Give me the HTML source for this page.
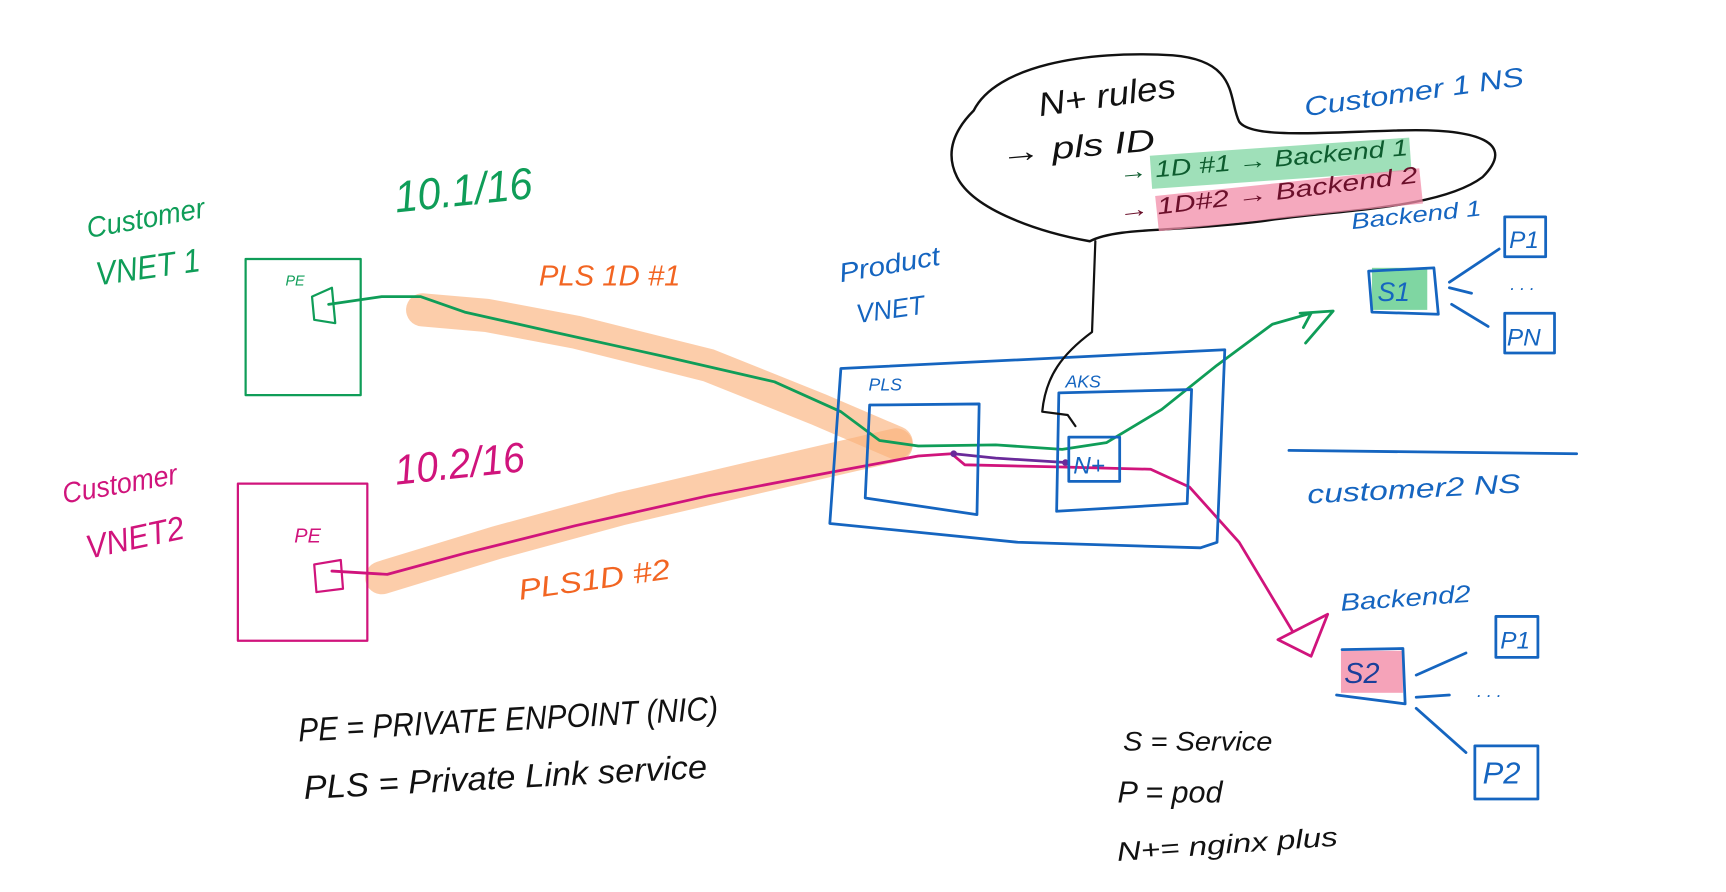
<!DOCTYPE html>
<html><head><meta charset="utf-8"><style>
html,body{margin:0;padding:0;background:#fff;width:1726px;height:892px;overflow:hidden}
svg{display:block}
text{font-family:"Liberation Sans",sans-serif}
</style></head><body>
<svg width="1726" height="892" viewBox="0 0 1560 806" preserveAspectRatio="none">
<g fill="none" stroke-linecap="round" stroke-linejoin="round">
<path d="M382,280 L440,285 L520,300 L640,330 L740,370 L810,400" stroke="#fbb27c" stroke-opacity="0.65" stroke-width="30"/>
<path d="M345,522 L450,490 L560,460 L680,432 L810,402" stroke="#fbb27c" stroke-opacity="0.65" stroke-width="30"/>
<rect x="222" y="234" width="104" height="123" stroke="#0f9d58" stroke-width="2"/>
<path d="M282,268 L300,260 L303,292 L284,289 Z" stroke="#0f9d58" stroke-width="2"/>
<path d="M297,275 L345,268 L380,268 L420,282 L500,300 L600,322 L700,345 L760,372 L795,398 L830,403 L900,402 L960,406 L1000,400 L1050,370 L1100,330 L1150,293 L1185,283" stroke="#0f9d58" stroke-width="2.5"/>
<path d="M1175,283 L1205,281 L1180,310 M1185,283 L1178,296" stroke="#0f9d58" stroke-width="2.5"/>
<rect x="215" y="437" width="117" height="142" stroke="#d0147c" stroke-width="2"/>
<path d="M284,510 L308,506 L310,532 L286,535 Z" stroke="#d0147c" stroke-width="2"/>
<path d="M300,516 L350,519 L420,500 L520,475 L640,448 L760,425 L830,412 L860,410 L872,420 L960,422 L1040,424 L1075,440 L1120,490 L1168,570" stroke="#d0147c" stroke-width="2.5"/>
<path d="M1155,578 L1200,555 L1185,593 Z" stroke="#d0147c" stroke-width="2.5"/>
<path d="M862,410 L900,414 L965,418" stroke="#6a2a9a" stroke-width="2.5"/>
<circle cx="862" cy="410" r="3" fill="#6a2a9a" stroke="none"/>
<circle cx="963" cy="418" r="3" fill="#6a2a9a" stroke="none"/>
<path d="M760,333 L1107,316 L1100,490 L1085,495 L920,490 L750,473 Z" stroke="#1565c0" stroke-width="2.5"/>
<path d="M786,366 L885,365 L883,465 L782,450 Z" stroke="#1565c0" stroke-width="2.5"/>
<path d="M957,355 L1077,352 L1073,455 L955,462 Z" stroke="#1565c0" stroke-width="2.5"/>
<rect x="966" y="395" width="46" height="40" stroke="#1565c0" stroke-width="2.5"/>
<path d="M880,100 C900,60 980,45 1060,50 C1120,55 1110,90 1120,110 C1130,125 1190,120 1260,118 C1340,115 1370,130 1340,160 C1300,190 1200,190 1140,200 C1060,210 1010,205 985,218 C940,210 880,190 865,160 C855,140 860,120 880,100 Z" stroke="#111" stroke-width="2.2"/>
<path d="M990,218 L987,300 C960,320 945,340 942,372 L965,375 L972,385" stroke="#111" stroke-width="2"/>
<rect x="1040" y="133" width="235" height="30" fill="#7fd6a2" fill-opacity="0.75" stroke="none" transform="rotate(-4 1150 148)"/>
<rect x="1045" y="165" width="240" height="32" fill="#f28ca8" fill-opacity="0.75" stroke="none" transform="rotate(-6 1160 180)"/>
<rect x="1240" y="242" width="50" height="38" fill="#7fd6a2" stroke="none"/>
<path d="M1237,245 L1296,242 L1300,284 L1240,282 Z" stroke="#1565c0" stroke-width="2.5"/>
<rect x="1360" y="196" width="37" height="36" stroke="#1565c0" stroke-width="2.5"/>
<rect x="1360" y="283" width="45" height="36" stroke="#1565c0" stroke-width="2.5"/>
<path d="M1310,255 L1355,225 M1310,260 L1330,265 M1312,275 L1345,295" stroke="#1565c0" stroke-width="2.5"/>
<path d="M1165,407 L1425,410" stroke="#1565c0" stroke-width="2.5"/>
<rect x="1212" y="588" width="56" height="38" fill="#f28ca8" fill-opacity="0.8" stroke="none"/>
<path d="M1213,587 L1268,586 L1270,636 L1208,628" stroke="#1565c0" stroke-width="2.5"/>
<rect x="1352" y="557" width="38" height="37" stroke="#1565c0" stroke-width="2.5"/>
<rect x="1333" y="674" width="57" height="48" stroke="#1565c0" stroke-width="2.5"/>
<path d="M1280,610 L1325,590 M1280,630 L1310,628 M1280,640 L1325,680" stroke="#1565c0" stroke-width="2.5"/>
</g>
<g font-style="italic" lengthAdjust="spacingAndGlyphs">
<text x="80" y="215" fill="#0f9d58" font-size="26" textLength="108" lengthAdjust="spacingAndGlyphs" transform="rotate(-10 80 215)">Customer</text>
<text x="88" y="258" fill="#0f9d58" font-size="30" textLength="95" lengthAdjust="spacingAndGlyphs" transform="rotate(-8 88 258)">VNET 1</text>
<text x="358" y="192" fill="#0f9d58" font-size="40" textLength="125" lengthAdjust="spacingAndGlyphs" transform="rotate(-6 358 192)">10.1/16</text>
<text x="258" y="258" fill="#0f9d58" font-size="13">PE</text>
<text x="487" y="258" fill="#f26522" font-size="26" textLength="128" lengthAdjust="spacingAndGlyphs">PLS 1D #1</text>
<text x="58" y="455" fill="#d0147c" font-size="26" textLength="105" lengthAdjust="spacingAndGlyphs" transform="rotate(-10 58 455)">Customer</text>
<text x="80" y="505" fill="#d0147c" font-size="30" textLength="90" lengthAdjust="spacingAndGlyphs" transform="rotate(-12 80 505)">VNET2</text>
<text x="358" y="438" fill="#d0147c" font-size="38" textLength="118" lengthAdjust="spacingAndGlyphs" transform="rotate(-6 358 438)">10.2/16</text>
<text x="266" y="490" fill="#d0147c" font-size="18">PE</text>
<text x="470" y="542" fill="#f26522" font-size="26" textLength="138" lengthAdjust="spacingAndGlyphs" transform="rotate(-8 470 542)">PLS1D #2</text>
<text x="760" y="255" fill="#1565c0" font-size="24" textLength="92" lengthAdjust="spacingAndGlyphs" transform="rotate(-10 760 255)">Product</text>
<text x="775" y="292" fill="#1565c0" font-size="24" textLength="62" lengthAdjust="spacingAndGlyphs" transform="rotate(-8 775 292)">VNET</text>
<text x="785" y="353" fill="#1565c0" font-size="16">PLS</text>
<text x="963" y="350" fill="#1565c0" font-size="16">AKS</text>
<text x="970" y="428" fill="#1565c0" font-size="22">N+</text>
<text x="940" y="105" fill="#111" font-size="30" textLength="125" lengthAdjust="spacingAndGlyphs" transform="rotate(-8 940 105)">N+ rules</text>
<text x="905" y="148" fill="#111" font-size="28" textLength="140" lengthAdjust="spacingAndGlyphs" transform="rotate(-5 905 148)">→ pls ID</text>
<text x="1012" y="163" fill="#0d5c2e" font-size="21" textLength="262" lengthAdjust="spacingAndGlyphs" transform="rotate(-5 1012 163)">→ 1D #1 → Backend 1</text>
<text x="1012" y="198" fill="#6b0f2a" font-size="21" textLength="272" lengthAdjust="spacingAndGlyphs" transform="rotate(-7 1012 198)">→ 1D#2 → Backend 2</text>
<text x="1180" y="105" fill="#1565c0" font-size="24" textLength="200" lengthAdjust="spacingAndGlyphs" transform="rotate(-8 1180 105)">Customer 1 NS</text>
<text x="1222" y="207" fill="#1565c0" font-size="20" textLength="118" lengthAdjust="spacingAndGlyphs" transform="rotate(-6 1222 207)">Backend 1</text>
<text x="1245" y="272" fill="#1565c0" font-size="24">S1</text>
<text x="1364" y="224" fill="#1565c0" font-size="22">P1</text>
<text x="1365" y="262" fill="#1565c0" font-size="16">. . .</text>
<text x="1362" y="312" fill="#1565c0" font-size="22">PN</text>
<text x="1182" y="455" fill="#1565c0" font-size="24" textLength="193" lengthAdjust="spacingAndGlyphs" transform="rotate(-3 1182 455)">customer2 NS</text>
<text x="1212" y="552" fill="#1565c0" font-size="22" textLength="118" lengthAdjust="spacingAndGlyphs" transform="rotate(-4 1212 552)">Backend2</text>
<text x="1215" y="617" fill="#1a3f9a" font-size="26">S2</text>
<text x="1356" y="586" fill="#1565c0" font-size="22">P1</text>
<text x="1335" y="630" fill="#1565c0" font-size="16">. . .</text>
<text x="1340" y="708" fill="#1565c0" font-size="28">P2</text>
<text x="270" y="670" fill="#111" font-size="30" textLength="380" lengthAdjust="spacingAndGlyphs" transform="rotate(-3 270 670)">PE = PRIVATE ENPOINT (NIC)</text>
<text x="275" y="722" fill="#111" font-size="30" textLength="365" lengthAdjust="spacingAndGlyphs" transform="rotate(-3 275 722)">PLS = Private Link service</text>
<text x="1015" y="678" fill="#111" font-size="24" textLength="135" lengthAdjust="spacingAndGlyphs">S = Service</text>
<text x="1010" y="725" fill="#111" font-size="28" textLength="95" lengthAdjust="spacingAndGlyphs">P = pod</text>
<text x="1010" y="778" fill="#111" font-size="24" textLength="200" lengthAdjust="spacingAndGlyphs" transform="rotate(-4 1010 778)">N+= nginx plus</text>
</g>
</svg>
</body></html>
